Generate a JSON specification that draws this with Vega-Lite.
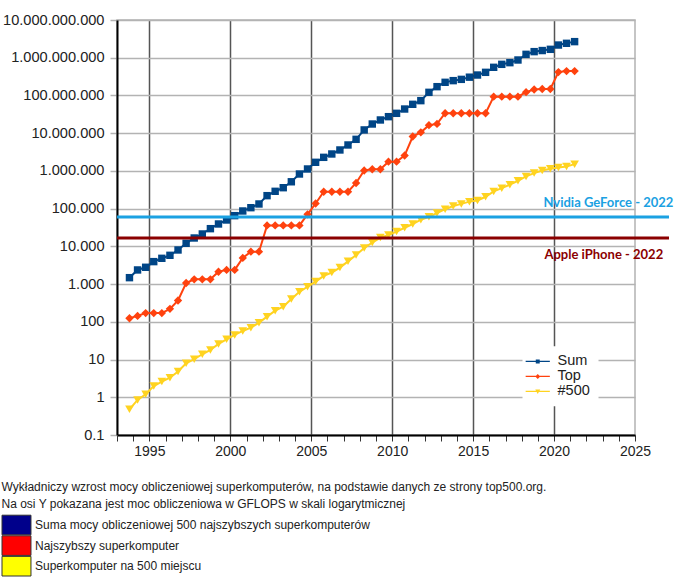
{
  "$schema": "https://vega.github.io/schema/vega-lite/v6.json",
  "autosize": {"type": "none"},
  "padding": {"left": 117, "top": 20, "right": 45, "bottom": 142},
  "width": 518,
  "height": 415,
  "background": "white",
  "config": {
    "font": "Liberation Sans",
    "view": {"stroke": "#b3b3b3", "strokeWidth": 1.5}
  },
  "datasets": {
    "top500": [
      {"series": "Sum", "year": 1993.77, "gflops": 1480},
      {"series": "Sum", "year": 1994.27, "gflops": 2370},
      {"series": "Sum", "year": 1994.77, "gflops": 2790},
      {"series": "Sum", "year": 1995.27, "gflops": 3940},
      {"series": "Sum", "year": 1995.77, "gflops": 4820},
      {"series": "Sum", "year": 1996.27, "gflops": 5790},
      {"series": "Sum", "year": 1996.77, "gflops": 8020},
      {"series": "Sum", "year": 1997.27, "gflops": 12050},
      {"series": "Sum", "year": 1997.77, "gflops": 16670},
      {"series": "Sum", "year": 1998.27, "gflops": 21300},
      {"series": "Sum", "year": 1998.77, "gflops": 29450},
      {"series": "Sum", "year": 1999.27, "gflops": 39200},
      {"series": "Sum", "year": 1999.77, "gflops": 50000},
      {"series": "Sum", "year": 2000.27, "gflops": 65200},
      {"series": "Sum", "year": 2000.77, "gflops": 86700},
      {"series": "Sum", "year": 2001.27, "gflops": 106000},
      {"series": "Sum", "year": 2001.77, "gflops": 132900},
      {"series": "Sum", "year": 2002.27, "gflops": 220800},
      {"series": "Sum", "year": 2002.77, "gflops": 287700},
      {"series": "Sum", "year": 2003.27, "gflops": 358900},
      {"series": "Sum", "year": 2003.77, "gflops": 515000},
      {"series": "Sum", "year": 2004.27, "gflops": 828000},
      {"series": "Sum", "year": 2004.77, "gflops": 1125000},
      {"series": "Sum", "year": 2005.27, "gflops": 1690000},
      {"series": "Sum", "year": 2005.77, "gflops": 2290000},
      {"series": "Sum", "year": 2006.27, "gflops": 2810000},
      {"series": "Sum", "year": 2006.77, "gflops": 3590000},
      {"series": "Sum", "year": 2007.27, "gflops": 4870000},
      {"series": "Sum", "year": 2007.77, "gflops": 6870000},
      {"series": "Sum", "year": 2008.27, "gflops": 12200000},
      {"series": "Sum", "year": 2008.77, "gflops": 17500000},
      {"series": "Sum", "year": 2009.27, "gflops": 22400000},
      {"series": "Sum", "year": 2009.77, "gflops": 27400000},
      {"series": "Sum", "year": 2010.27, "gflops": 33600000},
      {"series": "Sum", "year": 2010.77, "gflops": 43700000},
      {"series": "Sum", "year": 2011.27, "gflops": 58200000},
      {"series": "Sum", "year": 2011.77, "gflops": 72800000},
      {"series": "Sum", "year": 2012.27, "gflops": 121000000},
      {"series": "Sum", "year": 2012.77, "gflops": 171000000},
      {"series": "Sum", "year": 2013.27, "gflops": 223000000},
      {"series": "Sum", "year": 2013.77, "gflops": 247000000},
      {"series": "Sum", "year": 2014.27, "gflops": 267000000},
      {"series": "Sum", "year": 2014.77, "gflops": 305000000},
      {"series": "Sum", "year": 2015.27, "gflops": 348000000},
      {"series": "Sum", "year": 2015.77, "gflops": 410000000},
      {"series": "Sum", "year": 2016.27, "gflops": 557000000},
      {"series": "Sum", "year": 2016.77, "gflops": 668000000},
      {"series": "Sum", "year": 2017.27, "gflops": 740000000},
      {"series": "Sum", "year": 2017.77, "gflops": 871000000},
      {"series": "Sum", "year": 2018.27, "gflops": 1230000000},
      {"series": "Sum", "year": 2018.77, "gflops": 1450000000},
      {"series": "Sum", "year": 2019.27, "gflops": 1550000000},
      {"series": "Sum", "year": 2019.77, "gflops": 1670000000},
      {"series": "Sum", "year": 2020.27, "gflops": 2170000000},
      {"series": "Sum", "year": 2020.77, "gflops": 2410000000},
      {"series": "Sum", "year": 2021.27, "gflops": 2670000000},
      {"series": "Top", "year": 1993.77, "gflops": 124.5},
      {"series": "Top", "year": 1994.27, "gflops": 143.4},
      {"series": "Top", "year": 1994.77, "gflops": 170.4},
      {"series": "Top", "year": 1995.27, "gflops": 170.4},
      {"series": "Top", "year": 1995.77, "gflops": 170.4},
      {"series": "Top", "year": 1996.27, "gflops": 220.4},
      {"series": "Top", "year": 1996.77, "gflops": 368.2},
      {"series": "Top", "year": 1997.27, "gflops": 1068},
      {"series": "Top", "year": 1997.77, "gflops": 1338},
      {"series": "Top", "year": 1998.27, "gflops": 1338},
      {"series": "Top", "year": 1998.77, "gflops": 1338},
      {"series": "Top", "year": 1999.27, "gflops": 2121},
      {"series": "Top", "year": 1999.77, "gflops": 2379},
      {"series": "Top", "year": 2000.27, "gflops": 2379},
      {"series": "Top", "year": 2000.77, "gflops": 4938},
      {"series": "Top", "year": 2001.27, "gflops": 7226},
      {"series": "Top", "year": 2001.77, "gflops": 7226},
      {"series": "Top", "year": 2002.27, "gflops": 35860},
      {"series": "Top", "year": 2002.77, "gflops": 35860},
      {"series": "Top", "year": 2003.27, "gflops": 35860},
      {"series": "Top", "year": 2003.77, "gflops": 35860},
      {"series": "Top", "year": 2004.27, "gflops": 35860},
      {"series": "Top", "year": 2004.77, "gflops": 70720},
      {"series": "Top", "year": 2005.27, "gflops": 136800},
      {"series": "Top", "year": 2005.77, "gflops": 280600},
      {"series": "Top", "year": 2006.27, "gflops": 280600},
      {"series": "Top", "year": 2006.77, "gflops": 280600},
      {"series": "Top", "year": 2007.27, "gflops": 280600},
      {"series": "Top", "year": 2007.77, "gflops": 478200},
      {"series": "Top", "year": 2008.27, "gflops": 1026000},
      {"series": "Top", "year": 2008.77, "gflops": 1105000},
      {"series": "Top", "year": 2009.27, "gflops": 1105000},
      {"series": "Top", "year": 2009.77, "gflops": 1759000},
      {"series": "Top", "year": 2010.27, "gflops": 1759000},
      {"series": "Top", "year": 2010.77, "gflops": 2566000},
      {"series": "Top", "year": 2011.27, "gflops": 8162000},
      {"series": "Top", "year": 2011.77, "gflops": 10510000},
      {"series": "Top", "year": 2012.27, "gflops": 16320000},
      {"series": "Top", "year": 2012.77, "gflops": 17590000},
      {"series": "Top", "year": 2013.27, "gflops": 33860000},
      {"series": "Top", "year": 2013.77, "gflops": 33860000},
      {"series": "Top", "year": 2014.27, "gflops": 33860000},
      {"series": "Top", "year": 2014.77, "gflops": 33860000},
      {"series": "Top", "year": 2015.27, "gflops": 33860000},
      {"series": "Top", "year": 2015.77, "gflops": 33860000},
      {"series": "Top", "year": 2016.27, "gflops": 93010000},
      {"series": "Top", "year": 2016.77, "gflops": 93010000},
      {"series": "Top", "year": 2017.27, "gflops": 93010000},
      {"series": "Top", "year": 2017.77, "gflops": 93010000},
      {"series": "Top", "year": 2018.27, "gflops": 122300000},
      {"series": "Top", "year": 2018.77, "gflops": 143500000},
      {"series": "Top", "year": 2019.27, "gflops": 148600000},
      {"series": "Top", "year": 2019.77, "gflops": 148600000},
      {"series": "Top", "year": 2020.27, "gflops": 415500000},
      {"series": "Top", "year": 2020.77, "gflops": 442000000},
      {"series": "Top", "year": 2021.27, "gflops": 442000000},
      {"series": "#500", "year": 1993.77, "gflops": 0.48},
      {"series": "#500", "year": 1994.27, "gflops": 0.85},
      {"series": "#500", "year": 1994.77, "gflops": 1.2},
      {"series": "#500", "year": 1995.27, "gflops": 1.99},
      {"series": "#500", "year": 1995.77, "gflops": 2.6},
      {"series": "#500", "year": 1996.27, "gflops": 3.3},
      {"series": "#500", "year": 1996.77, "gflops": 4.8},
      {"series": "#500", "year": 1997.27, "gflops": 7.96},
      {"series": "#500", "year": 1997.77, "gflops": 10.2},
      {"series": "#500", "year": 1998.27, "gflops": 13.8},
      {"series": "#500", "year": 1998.77, "gflops": 17.9},
      {"series": "#500", "year": 1999.27, "gflops": 25.9},
      {"series": "#500", "year": 1999.77, "gflops": 34.4},
      {"series": "#500", "year": 2000.27, "gflops": 44.8},
      {"series": "#500", "year": 2000.77, "gflops": 57.2},
      {"series": "#500", "year": 2001.27, "gflops": 70},
      {"series": "#500", "year": 2001.77, "gflops": 95},
      {"series": "#500", "year": 2002.27, "gflops": 137},
      {"series": "#500", "year": 2002.77, "gflops": 197},
      {"series": "#500", "year": 2003.27, "gflops": 252},
      {"series": "#500", "year": 2003.77, "gflops": 400},
      {"series": "#500", "year": 2004.27, "gflops": 624},
      {"series": "#500", "year": 2004.77, "gflops": 851},
      {"series": "#500", "year": 2005.27, "gflops": 1166},
      {"series": "#500", "year": 2005.77, "gflops": 1646},
      {"series": "#500", "year": 2006.27, "gflops": 2026},
      {"series": "#500", "year": 2006.77, "gflops": 2737},
      {"series": "#500", "year": 2007.27, "gflops": 4005},
      {"series": "#500", "year": 2007.77, "gflops": 5929},
      {"series": "#500", "year": 2008.27, "gflops": 9000},
      {"series": "#500", "year": 2008.77, "gflops": 12640},
      {"series": "#500", "year": 2009.27, "gflops": 17090},
      {"series": "#500", "year": 2009.77, "gflops": 20050},
      {"series": "#500", "year": 2010.27, "gflops": 24670},
      {"series": "#500", "year": 2010.77, "gflops": 31120},
      {"series": "#500", "year": 2011.27, "gflops": 39090},
      {"series": "#500", "year": 2011.77, "gflops": 50940},
      {"series": "#500", "year": 2012.27, "gflops": 60820},
      {"series": "#500", "year": 2012.77, "gflops": 76500},
      {"series": "#500", "year": 2013.27, "gflops": 96620},
      {"series": "#500", "year": 2013.77, "gflops": 117800},
      {"series": "#500", "year": 2014.27, "gflops": 133700},
      {"series": "#500", "year": 2014.77, "gflops": 153400},
      {"series": "#500", "year": 2015.27, "gflops": 164900},
      {"series": "#500", "year": 2015.77, "gflops": 206400},
      {"series": "#500", "year": 2016.27, "gflops": 286100},
      {"series": "#500", "year": 2016.77, "gflops": 349300},
      {"series": "#500", "year": 2017.27, "gflops": 432200},
      {"series": "#500", "year": 2017.77, "gflops": 548300},
      {"series": "#500", "year": 2018.27, "gflops": 715600},
      {"series": "#500", "year": 2018.77, "gflops": 874800},
      {"series": "#500", "year": 2019.27, "gflops": 1022000},
      {"series": "#500", "year": 2019.77, "gflops": 1142000},
      {"series": "#500", "year": 2020.27, "gflops": 1228000},
      {"series": "#500", "year": 2020.77, "gflops": 1316000},
      {"series": "#500", "year": 2021.27, "gflops": 1511000}
    ],
    "annotations": [
      {"label": "Nvidia GeForce - 2022", "year": 2022, "gflops": 60000},
      {"label": "Apple iPhone - 2022", "year": 2022, "gflops": 16700}
    ]
  },
  "data": {"name": "top500"},
  "encoding": {
    "x": {
      "field": "year", "type": "quantitative",
      "scale": {"domain": [1993, 2025], "nice": false, "zero": false},
      "axis": {
        "title": null,
        "values": [1993,1994,1995,1996,1997,1998,1999,2000,2001,2002,2003,2004,2005,2006,2007,2008,2009,2010,2011,2012,2013,2014,2015,2016,2017,2018,2019,2020,2021,2022,2023,2024,2025],
        "format": "d",
        "labelExpr": "datum.value % 5 === 0 ? datum.label : ''",
        "labelFlush": false,
        "labelOverlap": false,
        "labelFontSize": 14,
        "labelColor": "#222",
        "labelPadding": 3,
        "domainColor": "#000",
        "domainWidth": 2,
        "tickColor": "#333",
        "tickSize": 6,
        "tickWidth": 1,
        "grid": true,
        "gridColor": "#555",
        "gridWidth": 1.5,
        "gridOpacity": {"condition": {"test": "datum.value % 5 === 0 && datum.value < 2025", "value": 1}, "value": 0}
      }
    },
    "y": {
      "field": "gflops", "type": "quantitative",
      "scale": {"type": "log", "domain": [0.1, 10000000000], "nice": false},
      "axis": {
        "title": null,
        "values": [0.1, 1, 10, 100, 1000, 10000, 100000, 1000000, 10000000, 100000000, 1000000000, 10000000000],
        "labelExpr": "datum.value < 1 ? '0.1' : replace(format(datum.value, ','), regexp(',', 'g'), '.')",
        "labelFlush": false,
        "labelOverlap": false,
        "labelFontSize": 14.6,
        "labelColor": "#222",
        "labelPadding": 6,
        "domainColor": "#000",
        "domainWidth": 2,
        "tickColor": "#b3b3b3",
        "tickSize": 7,
        "tickWidth": 1.5,
        "grid": true,
        "gridColor": "#b3b3b3",
        "gridWidth": 1.5
      }
    }
  },
  "layer": [
    {
      "transform": [{"filter": {"field": "series", "equal": "Sum"}}],
      "mark": {"type": "line", "strokeWidth": 2, "color": "#004586"}
    },
    {
      "transform": [{"filter": {"field": "series", "equal": "Top"}}],
      "mark": {"type": "line", "strokeWidth": 2, "color": "#ff420e"}
    },
    {
      "transform": [{"filter": {"field": "series", "equal": "#500"}}],
      "mark": {"type": "line", "strokeWidth": 2, "color": "#ffd320"}
    },
    {
      "transform": [{"filter": {"field": "series", "equal": "Sum"}}],
      "mark": {"type": "point", "shape": "square", "filled": true, "size": 55, "opacity": 1, "color": "#004586"}
    },
    {
      "transform": [{"filter": {"field": "series", "equal": "Top"}}],
      "mark": {"type": "point", "shape": "diamond", "filled": true, "size": 70, "opacity": 1, "color": "#ff420e"}
    },
    {
      "transform": [{"filter": {"field": "series", "equal": "#500"}}],
      "mark": {"type": "point", "shape": "triangle-down", "filled": true, "size": 75, "opacity": 1, "color": "#ffd320"}
    },
    {
      "data": {"name": "annotations"},
      "transform": [{"filter": {"field": "label", "equal": "Nvidia GeForce - 2022"}}],
      "mark": {"type": "rule", "color": "#1ba1e2", "strokeWidth": 3},
      "encoding": {"x": {"datum": 1993, "type": "quantitative"}, "x2": {"datum": 2027.1}}
    },
    {
      "data": {"name": "annotations"},
      "transform": [{"filter": {"field": "label", "equal": "Apple iPhone - 2022"}}],
      "mark": {"type": "rule", "color": "#8b0000", "strokeWidth": 3},
      "encoding": {"x": {"datum": 1993, "type": "quantitative"}, "x2": {"datum": 2027.1}}
    },
    {
      "data": {"name": "annotations"},
      "transform": [{"filter": {"field": "label", "equal": "Nvidia GeForce - 2022"}}],
      "mark": {"type": "text", "color": "#1ba1e2", "font": "Lato", "fontWeight": "bold", "fontSize": 13, "align": "left", "baseline": "middle", "dx": -43, "dy": -14},
      "encoding": {"text": {"field": "label"}}
    },
    {
      "data": {"name": "annotations"},
      "transform": [{"filter": {"field": "label", "equal": "Apple iPhone - 2022"}}],
      "mark": {"type": "text", "color": "#8b0000", "font": "Lato", "fontWeight": "bold", "fontSize": 13, "align": "left", "baseline": "middle", "dx": -42, "dy": 17},
      "encoding": {"text": {"field": "label"}}
    },
    {
      "transform": [{"filter": "datum.gflops < 0"}],
      "mark": {"type": "point", "filled": true, "opacity": 1},
      "encoding": {
        "color": {
          "field": "series", "type": "nominal",
          "scale": {"domain": ["Sum", "Top", "#500"], "range": ["#004586", "#ff420e", "#ffd320"]},
          "legend": {"title": null, "orient": "none", "legendX": 405.5, "legendY": 326.2, "fillColor": "white", "padding": 8, "symbolSize": 121, "labelOffset": 12.5, "labelFontSize": 14.5, "labelColor": "#222", "rowPadding": 0, "symbolStrokeWidth": 0}
        },
        "shape": {
          "field": "series", "type": "nominal",
          "scale": {"domain": ["Sum", "Top", "#500"], "range": [
            "M-2.2,-0.12H2.2V0.12H-2.2Z M-0.36,-0.36H0.36V0.36H-0.36Z",
            "M-2.2,-0.12H2.2V0.12H-2.2Z M0,-0.45L0.45,0L0,0.45L-0.45,0Z",
            "M-2.2,-0.12H2.2V0.12H-2.2Z M-0.45,-0.35H0.45L0,0.45Z"
          ]},
          "legend": {"title": null, "orient": "none", "legendX": 405.5, "legendY": 326.2, "fillColor": "white", "padding": 8, "symbolSize": 121, "labelOffset": 12.5, "labelFontSize": 14.5, "labelColor": "#222", "rowPadding": 0, "symbolStrokeWidth": 0}
        }
      }
    },
    {
      "transform": [{"filter": "datum.gflops < 0"}],
      "mark": {"type": "point", "filled": true, "opacity": 1, "stroke": "#333", "strokeWidth": 1},
      "encoding": {
        "fill": {
          "field": "opis", "type": "nominal",
          "scale": {"domain": ["Suma mocy obliczeniowej 500 najszybszych superkomputerów", "Najszybszy superkomputer", "Superkomputer na 500 miejscu"], "range": ["#00008b", "#ff0000", "#ffff00"]},
          "legend": {
            "title": ["Wykładniczy wzrost mocy obliczeniowej superkomputerów, na podstawie danych ze strony top500.org.", "Na osi Y pokazana jest moc obliczeniowa w GFLOPS w skali logarytmicznej"],
            "orient": "none", "legendX": -115.5, "legendY": 462, "padding": 0,
            "titleFontSize": 12, "titleFontWeight": "normal", "titleColor": "#222", "titleLineHeight": 16.5, "titlePadding": 7, "titleLimit": 1000,
            "symbolType": "M-1,-1.4H3.14V1.4H-1Z", "symbolSize": 196, "symbolStrokeColor": "#333", "symbolStrokeWidth": 1,
            "labelOffset": 18.5, "labelFontSize": 12, "labelColor": "#222", "labelLimit": 1000, "rowPadding": -4.4
          }
        }
      }
    }
  ]
}
